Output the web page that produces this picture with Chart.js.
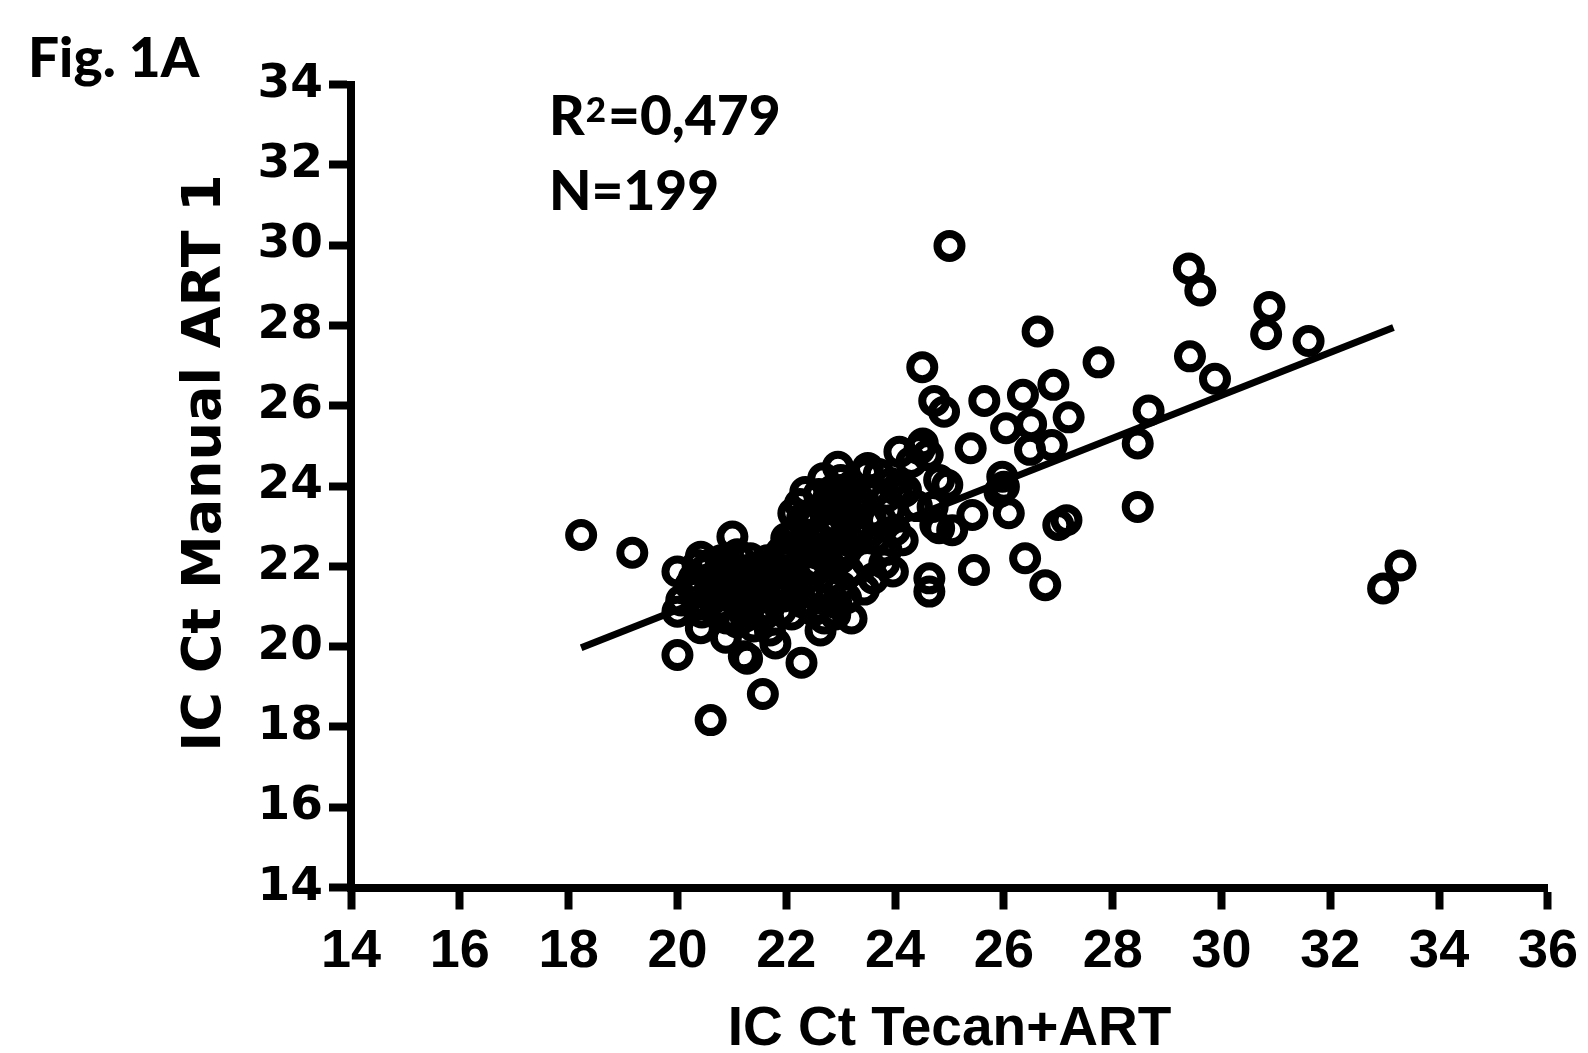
<!DOCTYPE html>
<html>
<head>
<meta charset="utf-8">
<title>Fig. 1A</title>
<script src="https://cdn.jsdelivr.net/npm/chart.js@4.4.1/dist/chart.umd.min.js"></script>
<style>
  html,body{margin:0;padding:0;background:#fff;}
  #wrap{width:1588px;height:1053px;}
</style>
</head>
<body>
<div id="wrap"><canvas id="fig1a" width="1588" height="1053"></canvas></div>
<script>
/* ============================================================ DATA */
// IC Ct Tecan+ART (x) and IC Ct Manual ART 1 (y), one entry per sample, N=199
const icTecanArt = [
  18.23,19.17,25.00,29.40,29.61,30.88,30.82,31.60,29.42,29.88,
  27.74,26.62,26.91,26.35,27.19,26.50,26.48,26.88,26.04,25.64,
  25.39,28.66,28.46,28.46,32.97,33.29,27.00,27.15,26.76,26.39,
  25.45,25.42,26.09,25.97,26.00,25.92,24.50,24.72,24.90,24.51,
  24.60,24.08,24.81,24.96,24.69,24.81,25.05,24.63,24.63,24.14,
  23.96,23.43,23.20,22.95,23.47,24.02,23.93,24.17,24.45,24.74,
  23.90,23.44,22.92,22.41,22.13,22.80,22.68,23.84,23.14,23.32,
  23.65,23.80,21.01,20.00,21.57,22.28,20.61,20.43,21.28,21.80,
  22.63,20.89,20.00,20.37,20.00,20.43,20.98,21.34,21.71,23.84,
  23.74,22.86,24.20,20.07,20.24,20.64,21.22,21.99,22.29,23.49,
  // dense cluster, left part
  20.30,20.50,20.60,20.80,20.90,21.00,21.10,21.20,21.30,21.40,
  21.50,21.50,21.60,21.70,21.80,21.90,20.70,20.90,21.10,21.30,
  21.40,21.60,21.70,21.90,20.50,21.00,21.20,21.45,21.35,21.55,
  21.25,20.80,21.05,21.65,21.80,20.45,20.60,20.35,
  // dense cluster, middle part
  22.00,22.10,22.20,22.30,22.40,22.50,22.60,22.70,22.80,22.90,
  23.00,23.10,23.20,22.40,22.60,22.80,23.00,22.20,22.50,22.70,
  22.90,23.10,23.30,23.00,22.30,22.10,22.50,22.90,22.00,22.35,
  22.65,22.75,22.95,23.25,23.45,23.55,23.35,22.15,22.45,22.85,
  23.15,22.55,22.25,22.60,23.00,23.20,22.05,21.95,
  23.60,23.70,24.30,24.40,24.00,23.60,23.10,22.70,21.10,20.80,
  21.90,22.35,23.50
];
const icManualArt1 = [
  22.78,22.34,29.98,29.42,28.87,28.46,27.78,27.61,27.23,26.67,
  27.08,27.85,26.52,26.27,25.71,25.54,24.90,25.02,25.44,26.12,
  24.94,25.88,25.06,23.48,21.45,22.02,23.03,23.15,21.53,22.20,
  21.91,23.28,23.32,24.23,23.98,23.85,26.96,26.12,25.85,25.06,
  24.77,24.85,24.15,24.03,23.48,22.95,22.90,21.70,21.37,22.65,
  21.87,21.42,20.70,24.48,24.32,23.90,24.07,23.86,24.92,23.03,
  23.40,22.20,21.08,23.15,23.32,23.73,24.19,23.73,23.15,22.82,
  22.70,22.07,22.74,19.79,18.82,19.60,18.17,20.46,19.70,20.08,
  20.40,20.22,20.87,22.03,21.87,22.24,22.07,22.20,22.07,22.41,
  23.15,23.90,23.90,21.15,21.53,21.22,19.76,22.50,23.19,22.11,
  // dense cluster, left part
  21.70,21.90,21.50,21.80,21.30,21.60,21.10,21.90,21.40,21.70,
  21.20,22.00,21.50,21.80,21.30,21.60,20.90,20.70,20.60,20.90,
  20.50,20.80,20.40,20.90,21.10,22.00,21.30,21.55,21.85,21.35,
  20.75,21.05,21.45,22.15,21.95,20.85,22.05,21.35,
  // dense cluster, middle part
  21.90,22.30,21.60,22.60,22.00,22.80,22.30,23.00,22.50,22.90,
  22.20,23.10,22.60,21.40,21.20,21.70,21.50,22.90,23.30,23.50,
  23.40,23.70,23.40,23.90,21.10,20.80,20.90,20.80,22.70,22.45,
  22.65,22.15,22.35,22.95,22.75,23.25,23.65,21.25,21.75,21.95,
  21.85,22.05,23.55,23.80,24.15,24.00,22.15,21.25,
  23.90,24.30,24.60,23.50,22.90,21.70,21.20,20.70,22.30,22.15,
  22.35,23.85,24.45
];
// linear regression line, as drawn (end points)
const fitX = [18.23, 33.16];
const fitY = [19.97, 27.95];
const xTitle = 'IC Ct Tecan+ART';
const yTitle = 'IC Ct Manual ART 1';
const rSquared = '0,479';
const nSamples = 199;

/* ============================================================ CHART */
const ink = '#000';
const axisFont = (family, size) => ({family, size, weight: 'bold', lineHeight: 1.2});

// free text on the figure: panel tag, R²/N and the rotated y title
const figText = {
  id: 'figText',
  afterDraw(chart) {
    const ctx = chart.ctx;
    ctx.save();
    ctx.fillStyle = ink;
    ctx.textAlign = 'left';
    ctx.textBaseline = 'alphabetic';
    ctx.font = '900 55px Lato';
    ctx.fillText('Fig. 1A', 28, 77);
    let x = 549;
    ctx.fillText('R', x, 135);
    x += ctx.measureText('R').width + 1;
    ctx.font = '900 35px Lato';
    ctx.fillText('2', x, 122);
    x += ctx.measureText('2').width + 2;
    ctx.font = '900 55px Lato';
    ctx.fillText('=' + rSquared, x, 135);
    ctx.fillText('N=' + nSamples, 549, 210);
    ctx.translate(220, 463);
    ctx.rotate(-Math.PI / 2);
    ctx.textAlign = 'center';
    ctx.font = 'bold 54px "DejaVu Sans"';
    ctx.fillText(yTitle, 0, 0);
    ctx.restore();
  }
};

const points = icTecanArt.map((v, i) => ({x: v, y: icManualArt1[i]}));
const fitLine = fitX.map((v, i) => ({x: v, y: fitY[i]}));

new Chart(document.getElementById('fig1a').getContext('2d'), {
  type: 'scatter',
  data: {datasets: [
    {label: 'fit', data: fitLine, showLine: true, borderColor: ink, borderWidth: 7,
     pointRadius: 0, borderCapStyle: 'butt', order: 2},
    {label: 'IC Ct', data: points, pointStyle: 'circle', pointRadius: 12, borderWidth: 8,
     borderColor: ink, backgroundColor: 'rgba(0,0,0,0)', order: 1}
  ]},
  options: {
    responsive: false, animation: false,
    layout: {padding: {left: 0, right: 31.5, top: 84.5, bottom: 0}},
    plugins: {legend: {display: false}, tooltip: {enabled: false}},
    scales: {
      x: {type: 'linear', min: 14, max: 36,
          ticks: {stepSize: 2, color: ink, padding: 10, maxRotation: 0, autoSkip: false,
                  font: axisFont('Liberation Sans', 54)},
          grid: {drawOnChartArea: false, drawTicks: true, tickLength: 22, tickWidth: 8, color: ink},
          border: {display: true, width: 8, color: ink},
          title: {display: true, text: xTitle, color: ink, padding: {top: 0, bottom: -3},
                  font: {family: 'Liberation Sans', size: 55, weight: 'bold', lineHeight: 0.95}},
          afterFit: s => { s.height = 165.5; }},
      y: {type: 'linear', min: 14, max: 34,
          ticks: {stepSize: 2, color: ink, padding: 6, autoSkip: false,
                  font: axisFont('DejaVu Sans', 47)},
          grid: {drawOnChartArea: false, drawTicks: true, tickLength: 22, tickWidth: 8, color: ink},
          border: {display: true, width: 8, color: ink},
          afterFit: s => { s.width = 351; }}
    }
  },
  plugins: [figText]
});
</script>
</body>
</html>
